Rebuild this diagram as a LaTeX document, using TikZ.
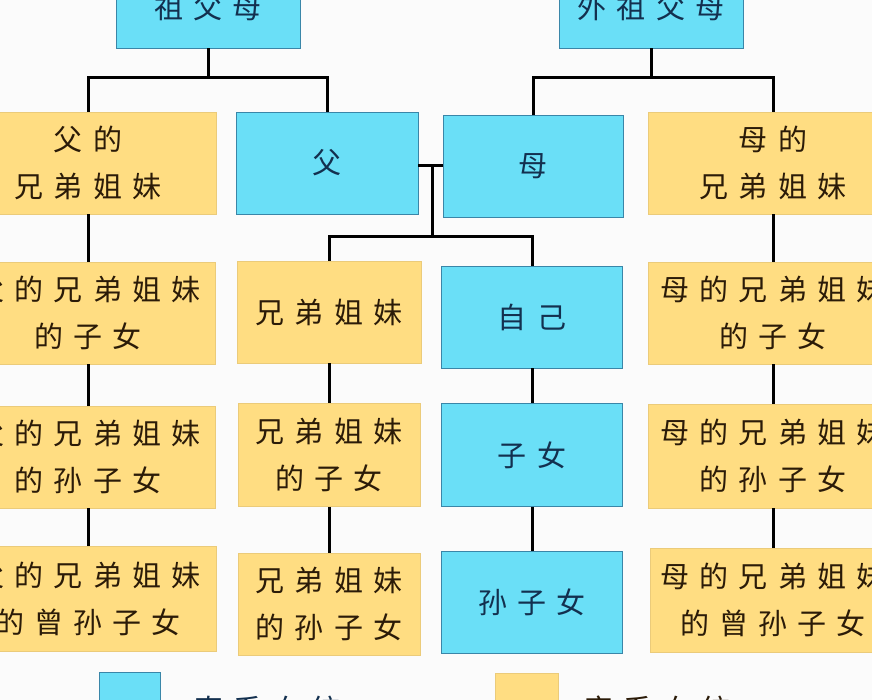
\documentclass[tikz,border=0pt]{standalone}
\usepackage{fontspec}
\newfontfamily\cjk[LetterSpace=35]{Noto Sans CJK SC}
\definecolor{zxblue}{HTML}{6ADFF7}
\definecolor{zxedge}{HTML}{3A86A8}
\definecolor{pxyellow}{HTML}{FFDD82}
\definecolor{pxedge}{HTML}{EBCB7A}
\definecolor{zxtext}{HTML}{13304F}
\definecolor{pxtext}{HTML}{2B1B08}
\begin{document}
\begin{tikzpicture}[x=1pt,y=-1pt,
    zhixi/.style={draw=zxedge,fill=zxblue,text=zxtext,line width=0.8pt,inner sep=0pt,
        align=center,font=\cjk\fontsize{29}{47}\selectfont},
    pangxi/.style={draw=pxedge,fill=pxyellow,text=pxtext,line width=0.8pt,inner sep=0pt,
        align=center,font=\cjk\fontsize{29}{47}\selectfont},
    link/.style={draw=black,line width=3pt}]
                    \clip (0,0) rectangle (872,700);
                    \fill[white!97!gray] (0,0) rectangle (872,700);

                    % grandparents
                    \node[zhixi,minimum width=184,minimum height=80] (gp)  at (208,8) {祖父母};
                    \node[zhixi,minimum width=184,minimum height=80] (mgp) at (651,8) {外祖父母};

                    % parents' generation
                    \node[pangxi,minimum width=256,minimum height=102] (fsib)   at (88,163)  {父的\\兄弟姐妹};
                    \node[zhixi,minimum width=182,minimum height=102]  (father) at (327,163) {父};
                    \node[zhixi,minimum width=180,minimum height=102]  (mother) at (533,166) {母};
                    \node[pangxi,minimum width=250,minimum height=102] (msib)   at (773,163) {母的\\兄弟姐妹};

                    % own generation
                    \node[pangxi,minimum width=254,minimum height=102] (fsibc) at (88,313)  {父的兄弟姐妹\\的子女};
                    \node[pangxi,minimum width=184,minimum height=102] (sib)   at (329,312) {兄弟姐妹};
                    \node[zhixi,minimum width=181,minimum height=102]  (self)  at (532,317) {自己};
                    \node[pangxi,minimum width=250,minimum height=102] (msibc) at (773,313) {母的兄弟姐妹\\的子女};

                    % children
                    \node[pangxi,minimum width=254,minimum height=102] (fsibgc) at (88,457)  {父的兄弟姐妹\\的孙子女};
                    \node[pangxi,minimum width=182,minimum height=103] (sibc)   at (329,455) {兄弟姐妹\\的子女};
                    \node[zhixi,minimum width=181,minimum height=103]  (child)  at (532,455) {子女};
                    \node[pangxi,minimum width=250,minimum height=104] (msibgc) at (773,456) {母的兄弟姐妹\\的孙子女};

                    % grandchildren
                    \node[pangxi,minimum width=256,minimum height=105] (fsibggc) at (88,599)  {父的兄弟姐妹\\的曾孙子女};
                    \node[pangxi,minimum width=182,minimum height=102] (sibgc)   at (329,604) {兄弟姐妹\\的孙子女};
                    \node[zhixi,minimum width=181,minimum height=102]  (gchild)  at (532,602) {孙子女};
                    \node[pangxi,minimum width=246,minimum height=104] (msibggc) at (773,600) {母的兄弟姐妹\\的曾孙子女};

                    % links
                    \draw[link] (gp.south) -- ++(0,29) -| (fsib.north);
                    \draw[link] (gp.south) -- ++(0,29) -| (father.north);
                    \draw[link] (mgp.south) -- ++(0,29) -| (mother.north);
                    \draw[link] (mgp.south) -- ++(0,29) -| (msib.north);

                    \coordinate (fm) at (432,166);
                    \coordinate (kids) at (432,237);
                    \draw[link] (father.east |- fm) -- (mother.west |- fm);
                    \draw[link] (fm) -- (kids);
                    \draw[link] (sib.north) |- (kids) -| (self.north);

                    \draw[link] (fsib) -- (fsibc);
                    \draw[link] (fsibc) -- (fsibgc);
                    \draw[link] (fsibgc) -- (fsibggc);
                    \draw[link] (sib) -- (sibc);
                    \draw[link] (sibc) -- (sibgc);
                    \draw[link] (self) -- (child);
                    \draw[link] (child) -- (gchild);
                    \draw[link] (msib) -- (msibc);
                    \draw[link] (msibc) -- (msibgc);
                    \draw[link] (msibgc) -- (msibggc);

                    % legend
                    \node[zhixi,minimum width=61,minimum height=60]  (keyz) at (130,702) {};
                    \node[pangxi,minimum width=63,minimum height=60] (keyp) at (527,703) {};
                    \node[anchor=west,text=zxtext,font=\cjk\fontsize{29}{34}\selectfont] (keyztext) at ([xshift=30]keyz.east |- 0,709) {直系血统};
                    \node[anchor=west,text=pxtext,font=\cjk\fontsize{29}{34}\selectfont] (keyptext) at ([xshift=22]keyp.east |- 0,709) {旁系血统};
\end{tikzpicture}
\end{document}
